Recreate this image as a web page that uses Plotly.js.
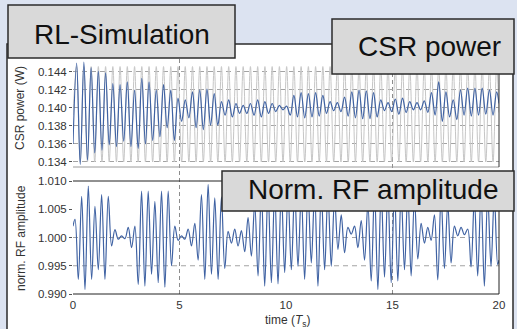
<!DOCTYPE html>
<html>
<head>
<meta charset="utf-8">
<script src="https://cdn.plot.ly/plotly-3.0.1.min.js"></script>
<style>
html,body{margin:0;padding:0;background:#dce3f1;}
#chart{width:517px;height:329px;}
</style>
</head>
<body>
<div id="chart"></div>
<script>
// ---- data ----
const timeTicks = [0, 5, 10, 15, 20];
const csrTicks = [0.134, 0.136, 0.138, 0.140, 0.142, 0.144, 0.146];
const rfTicks = [0.990, 0.995, 1.000, 1.005, 1.010];
const rfGrid = [0.995, 1.000];
const timeGrid = [5, 15];

const tTop = [0,0.17,0.34,0.51,0.68,0.85,1.02,1.19,1.36,1.53,1.7,1.87,2.04,2.21,2.38,2.55,2.72,2.89,3.06,3.23,3.4,3.57,3.74,3.91,4.08,4.25,4.42,4.59,4.76,4.93,5.1,5.27,5.44,5.61,5.78,5.95,6.12,6.29,6.46,6.63,6.8,6.97,7.14,7.31,7.48,7.65,7.82,7.99,8.16,8.33,8.5,8.67,8.84,9.01,9.18,9.35,9.52,9.69,9.86,10.03,10.2,10.37,10.54,10.71,10.88,11.05,11.22,11.39,11.56,11.73,11.9,12.07,12.24,12.41,12.58,12.75,12.92,13.09,13.26,13.43,13.6,13.77,13.94,14.11,14.28,14.45,14.62,14.79,14.96,15.13,15.3,15.47,15.64,15.81,15.98,16.15,16.32,16.49,16.66,16.83,17,17.17,17.34,17.51,17.68,17.85,18.02,18.19,18.36,18.53,18.7,18.87,19.04,19.21,19.38,19.55,19.72,19.89,20];

const csrRef = [0.1392,0.1446,0.1340,0.1446,0.1340,0.1446,0.1340,0.1446,0.1340,0.1446,0.1340,0.1446,0.1340,0.1446,0.1340,0.1446,0.1340,0.1446,0.1340,0.1446,0.1340,0.1446,0.1340,0.1446,0.1340,0.1446,0.1340,0.1446,0.1340,0.1446,0.1340,0.1446,0.1340,0.1446,0.1340,0.1446,0.1340,0.1446,0.1340,0.1446,0.1340,0.1446,0.1340,0.1446,0.1340,0.1446,0.1340,0.1446,0.1340,0.1446,0.1340,0.1446,0.1340,0.1446,0.1340,0.1446,0.1340,0.1446,0.1340,0.1446,0.1340,0.1446,0.1340,0.1446,0.1340,0.1446,0.1340,0.1446,0.1340,0.1446,0.1340,0.1446,0.1340,0.1446,0.1340,0.1446,0.1340,0.1446,0.1340,0.1446,0.1340,0.1446,0.1340,0.1446,0.1340,0.1446,0.1340,0.1446,0.1340,0.1446,0.1340,0.1446,0.1340,0.1446,0.1340,0.1446,0.1340,0.1446,0.1340,0.1446,0.1340,0.1446,0.1340,0.1446,0.1340,0.1446,0.1340,0.1446,0.1340,0.1446,0.1340,0.1446,0.1340,0.1446,0.1340,0.1446,0.1340,0.1446,0.1395];

const csrPower = [0.1360,0.1450,0.1337,0.1451,0.1342,0.1445,0.1350,0.1441,0.1353,0.1439,0.1359,0.1427,0.1357,0.1426,0.1363,0.1429,0.1357,0.1420,0.1355,0.1433,0.1360,0.1429,0.1364,0.1420,0.1368,0.1426,0.1378,0.1420,0.1364,0.1411,0.1385,0.1409,0.1389,0.1418,0.1378,0.1420,0.1376,0.1421,0.1381,0.1416,0.1381,0.1407,0.1392,0.1409,0.1390,0.1405,0.1394,0.1403,0.1394,0.1405,0.1392,0.1409,0.1390,0.1407,0.1394,0.1405,0.1396,0.1403,0.1398,0.1402,0.1392,0.1414,0.1390,0.1417,0.1389,0.1416,0.1390,0.1417,0.1391,0.1414,0.1394,0.1407,0.1397,0.1406,0.1396,0.1412,0.1391,0.1418,0.1389,0.1420,0.1388,0.1419,0.1388,0.1417,0.1390,0.1409,0.1397,0.1406,0.1396,0.1410,0.1393,0.1411,0.1395,0.1407,0.1398,0.1406,0.1398,0.1408,0.1395,0.1417,0.1392,0.1429,0.1385,0.1418,0.1390,0.1409,0.1387,0.1420,0.1392,0.1422,0.1391,0.1422,0.1392,0.1422,0.1393,0.1420,0.1392,0.1418,0.1405];

const tRF = [0,0.094,0.25,0.406,0.563,0.719,0.875,1.031,1.188,1.344,1.5,1.656,1.813,1.969,2.125,2.281,2.438,2.594,2.75,2.906,3.063,3.219,3.375,3.531,3.688,3.844,4,4.156,4.313,4.469,4.625,4.781,4.938,5.094,5.25,5.406,5.563,5.719,5.875,6.031,6.188,6.344,6.5,6.656,6.813,6.969,7.125,7.281,7.438,7.594,7.75,7.906,8.063,8.219,8.375,8.531,8.688,8.844,9,9.156,9.313,9.469,9.625,9.781,9.938,10.094,10.25,10.406,10.563,10.719,10.875,11.031,11.188,11.344,11.5,11.656,11.813,11.969,12.125,12.281,12.438,12.594,12.75,12.906,13.063,13.219,13.375,13.531,13.688,13.844,14,14.156,14.313,14.469,14.625,14.781,14.938,15.094,15.25,15.406,15.563,15.719,15.875,16.031,16.188,16.344,16.5,16.656,16.813,16.969,17.125,17.281,17.438,17.594,17.75,17.906,18.063,18.219,18.375,18.531,18.688,18.844,19,19.156,19.313,19.469,19.625,19.781,19.938,20];

const rfAmp = [1.0020,1.0032,0.9926,1.0073,0.9908,1.0091,0.9926,1.0055,0.9943,1.0076,0.9926,1.0073,0.9985,1.0014,0.9997,1.0003,0.9998,1.0018,0.9982,1.0020,0.9917,1.0082,0.9914,1.0082,0.9935,1.0064,0.9920,1.0082,0.9912,1.0082,0.9950,1.0020,0.9995,1.0003,0.9997,1.0015,0.9985,1.0025,0.9960,1.0076,0.9926,1.0094,0.9935,1.0070,0.9926,1.0072,0.9945,1.0011,0.9990,1.0015,0.9985,1.0012,0.9975,1.0035,0.9967,1.0060,0.9932,1.0085,0.9914,1.0088,0.9920,1.0085,0.9918,1.0085,0.9938,1.0080,0.9943,1.0085,0.9949,1.0080,0.9926,1.0085,0.9955,1.0080,0.9914,1.0085,0.9943,1.0080,0.9949,1.0070,0.9979,1.0040,0.9973,1.0018,1.0006,1.0020,0.9982,1.0030,0.9960,1.0060,0.9923,1.0085,0.9908,1.0085,0.9930,1.0085,0.9920,1.0085,0.9923,1.0080,0.9943,1.0080,0.9932,1.0070,0.9962,1.0025,0.9990,1.0018,0.9995,1.0040,0.9925,1.0075,0.9945,1.0060,0.9955,1.0020,1.0003,1.0018,1.0005,1.0015,0.9948,1.0070,0.9932,1.0080,0.9914,1.0075,0.9949,1.0075,0.9952,0.9960];

const labels = {box1: 'RL-Simulation', box2: 'CSR power', box3: 'Norm. RF amplitude',
  yTop: 'CSR power (W)', yBottom: 'norm. RF amplitude', x: 'time (<i>T</i><sub>s</sub>)'};

// ---- geometry (pixels -> paper) ----
const L = 73, R = 499, T = 53, B = 294;
const W = R - L, H = B - T;
const xp = px => (px - L) / W;
const yp = py => (B - py) / H;

const FONT = 'Liberation Sans, Arial, Helvetica, sans-serif';
const blue = '#3f62a3';
const dashCol = '#a3a3a3';

const topDom = [yp(167), 1];
const botDom = [0, yp(181)];

const traces = [
  {x: tTop, y: csrRef, xaxis: 'x2', yaxis: 'y2', mode: 'lines',
   line: {color: '#c6c6c6', width: 1, shape: 'spline', smoothing: 1}, hoverinfo: 'skip'},
  {x: tTop, y: csrPower, xaxis: 'x2', yaxis: 'y2', mode: 'lines',
   line: {color: blue, width: 1.2, shape: 'spline', smoothing: 1}},
  {x: tRF, y: rfAmp, xaxis: 'x', yaxis: 'y', mode: 'lines',
   line: {color: blue, width: 1.2, shape: 'spline', smoothing: 1}}
];

const shapes = [];
// white figure panel
shapes.push({type: 'rect', xref: 'paper', yref: 'paper', x0: xp(7), x1: xp(513), y0: yp(335), y1: yp(44),
  fillcolor: '#ffffff', line: {color: '#2b2b2b', width: 1.5}, layer: 'below'});
// vertical dashed grid
timeGrid.forEach(v => {
  shapes.push({type: 'line', xref: 'x', yref: 'paper', x0: v, x1: v, y0: 0, y1: 1,
    line: {color: '#8c8c8c', width: 1, dash: '4px,3px'}, layer: 'below'});
});
// horizontal dashed grid of lower panel
rfGrid.forEach(v => {
  shapes.push({type: 'line', xref: 'paper', yref: 'y', x0: 0, x1: 1, y0: v, y1: v,
    line: {color: dashCol, width: 1, dash: '5px,4px'}, layer: 'below'});
});
// frames
shapes.push({type: 'line', xref: 'paper', yref: 'paper', x0: 0, x1: 1, y0: botDom[1], y1: botDom[1], line: {color: '#222', width: 1}});
shapes.push({type: 'line', xref: 'paper', yref: 'paper', x0: 0, x1: 1, y0: 0, y1: 0, line: {color: '#222', width: 1}});
shapes.push({type: 'line', xref: 'paper', yref: 'paper', x0: 1, x1: 1, y0: 0, y1: botDom[1], line: {color: '#222', width: 1}});
shapes.push({type: 'line', xref: 'paper', yref: 'paper', x0: 0, x1: 1, y0: topDom[0], y1: topDom[0], line: {color: '#9a9a9a', width: 1}});
shapes.push({type: 'line', xref: 'paper', yref: 'paper', x0: 1, x1: 1, y0: topDom[0], y1: 1, line: {color: '#333', width: 1}});
// label boxes
const box = (x0, x1, y0, y1) => ({type: 'rect', xref: 'paper', yref: 'paper', x0: xp(x0), x1: xp(x1), y0: yp(y1), y1: yp(y0),
  fillcolor: '#d9d9d9', line: {color: '#2b2b2b', width: 1.5}, layer: 'above'});
shapes.push(box(8, 235, 5, 58));
shapes.push(box(332, 514, 19, 74));
shapes.push(box(222, 514, 171, 211));

const annotations = [
  {text: labels.box1, xref: 'paper', yref: 'paper', x: xp(121.5), y: yp(34), xanchor: 'center', yanchor: 'middle', showarrow: false, font: {family: FONT, size: 28, color: '#111'}},
  {text: labels.box2, xref: 'paper', yref: 'paper', x: xp(429), y: yp(46), xanchor: 'center', yanchor: 'middle', showarrow: false, font: {family: FONT, size: 28, color: '#111'}},
  {text: labels.box3, xref: 'paper', yref: 'paper', x: xp(373), y: yp(189), xanchor: 'center', yanchor: 'middle', showarrow: false, font: {family: FONT, size: 28, color: '#111'}},
  {text: labels.yTop, xref: 'paper', yref: 'paper', x: xp(20), y: yp(108), xanchor: 'center', yanchor: 'middle', textangle: -90, showarrow: false, font: {family: FONT, size: 12, color: '#333'}},
  {text: labels.yBottom, xref: 'paper', yref: 'paper', x: xp(21), y: yp(238), xanchor: 'center', yanchor: 'middle', textangle: -90, showarrow: false, font: {family: FONT, size: 12, color: '#333'}},
  {text: labels.x, xref: 'paper', yref: 'paper', x: xp(288), y: yp(321), xanchor: 'center', yanchor: 'middle', showarrow: false, font: {family: FONT, size: 12, color: '#333'}}
];

const layout = {
  width: 517, height: 329,
  margin: {l: L, r: 517 - R, t: T, b: 329 - B, pad: 0},
  paper_bgcolor: '#dce3f1',
  plot_bgcolor: 'rgba(0,0,0,0)',
  showlegend: false,
  font: {family: FONT, size: 11.5, color: '#333'},
  xaxis: {domain: [0, 1], anchor: 'y', range: [0, 20], tickvals: timeTicks, ticktext: timeTicks.map(String),
    showgrid: false, zeroline: false, showline: false, ticks: '', ticklabelstandoff: 2,
    tickfont: {family: FONT, size: 11.5, color: '#333'}},
  xaxis2: {domain: [0, 1], anchor: 'y2', matches: 'x', range: [0, 20], showticklabels: false,
    showgrid: false, zeroline: false, showline: false, ticks: ''},
  yaxis: {domain: botDom, anchor: 'x', range: [0.990, 1.010], tickvals: rfTicks, tickformat: '.3f',
    showgrid: false, zeroline: false, showline: false, ticks: 'outside', ticklen: 3, tickcolor: '#555',
    tickfont: {family: FONT, size: 11.5, color: '#333'}},
  yaxis2: {domain: topDom, anchor: 'x2', range: [0.13344, 0.14611], tickvals: csrTicks, tickformat: '.3f',
    showgrid: true, gridcolor: dashCol, griddash: '5px,4px', gridwidth: 1,
    zeroline: false, showline: false, ticks: 'outside', ticklen: 3, tickcolor: '#555',
    tickfont: {family: FONT, size: 11.5, color: '#333'}},
  shapes: shapes,
  annotations: annotations
};

Plotly.newPlot('chart', traces, layout, {staticPlot: true, displayModeBar: false});
</script>
</body>
</html>
